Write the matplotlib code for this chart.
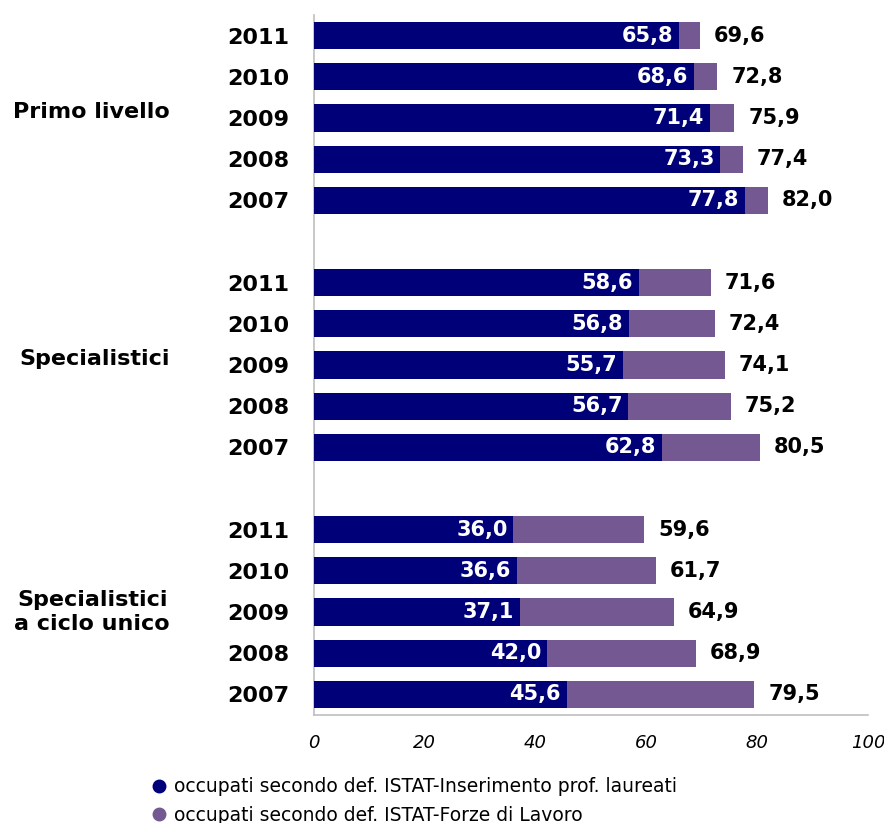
import numpy as np
import matplotlib.pyplot as plt
from matplotlib.lines import Line2D

plt.rcParams['font.family'] = ['DejaVu Sans']

groups = ['Primo livello', 'Specialistici', 'Specialistici\na ciclo unico']
years = ['2011', '2010', '2009', '2008', '2007']

# occupati secondo def. ISTAT - Inserimento prof. laureati
ins_primo = [65.8, 68.6, 71.4, 73.3, 77.8]
ins_spec = [58.6, 56.8, 55.7, 56.7, 62.8]
ins_ciclo = [36.0, 36.6, 37.1, 42.0, 45.6]

# occupati secondo def. ISTAT - Forze di Lavoro
fdl_primo = [69.6, 72.8, 75.9, 77.4, 82.0]
fdl_spec = [71.6, 72.4, 74.1, 75.2, 80.5]
fdl_ciclo = [59.6, 61.7, 64.9, 68.9, 79.5]

navy = '#000078'
purple = '#735891'

def fmt(v):
    return f"{v:.1f}".replace('.', ',')

fig = plt.figure(figsize=(8.84, 8.23), dpi=100)
ax = fig.add_axes([314/884, 1 - 715/823, (868 - 314)/884, 700/823])

ins_all = [ins_primo, ins_spec, ins_ciclo]
fdl_all = [fdl_primo, fdl_spec, fdl_ciclo]

ypos, ylabels = [], []
for g in range(3):
    base = g * 6
    pos = np.arange(5) + base
    ins = np.array(ins_all[g])
    fdl = np.array(fdl_all[g])
    ax.barh(pos, ins, height=0.66, color=navy, zorder=3)
    ax.barh(pos, fdl - ins, left=ins, height=0.66, color=purple, zorder=3)
    for y, a, b in zip(pos, ins, fdl):
        ax.annotate(fmt(a), (a, y), xytext=(-4, 0), textcoords='offset points',
                    ha='right', va='center', color='white', fontsize=15, fontweight='bold')
        ax.annotate(fmt(b), (b, y), xytext=(10, 0), textcoords='offset points',
                    ha='left', va='center', color='black', fontsize=15, fontweight='bold')
    ypos.extend(pos)
    ylabels.extend(years)
    # group name next to the middle row
    ax.text(-144/5.54, base + 2 - (0.15 if g < 2 else 0), groups[g], ha='right', va='center',
            fontsize=16, fontweight='bold', multialignment='center', clip_on=False,
            linespacing=1.25)

ax.set_ylim(16.5, -0.5)
ax.set_xlim(0, 100)
ax.set_yticks(ypos)
ax.set_yticklabels(ylabels, fontsize=16, fontweight='bold', va='center_baseline')
ax.tick_params(axis='y', length=0, pad=18)
ax.set_xticks(np.arange(0, 101, 20))
ax.tick_params(axis='x', length=0, pad=14, labelsize=13)
for lab in ax.get_xticklabels():
    lab.set_fontstyle('italic')

for s in ['top', 'right']:
    ax.spines[s].set_visible(False)
for s in ['left', 'bottom']:
    ax.spines[s].set_color('#BFBFBF')
    ax.spines[s].set_linewidth(1.2)

handles = [
    Line2D([], [], marker='o', linestyle='none', color=navy, markersize=9),
    Line2D([], [], marker='o', linestyle='none', color=purple, markersize=9),
]
labels = ['occupati secondo def. ISTAT-Inserimento prof. laureati',
          'occupati secondo def. ISTAT-Forze di Lavoro']
fig.legend(handles, labels, loc='upper left', bbox_to_anchor=(138/884, 1 - 768/823),
           frameon=False, fontsize=13.5, handletextpad=0.2, labelspacing=0.5,
           borderpad=0, handlelength=1.2)

fig.savefig('out.png', dpi=100)
